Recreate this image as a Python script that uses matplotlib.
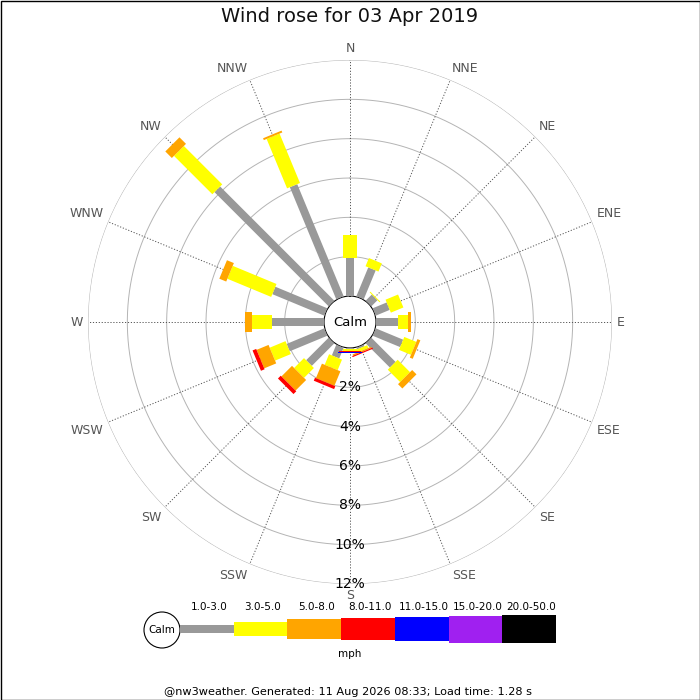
import numpy as np
import matplotlib
matplotlib.use("Agg")
import matplotlib.pyplot as plt
from matplotlib.patches import Rectangle, Circle

# ---------------- data ----------------
directions = ["N", "NNE", "NE", "ENE", "E", "ESE", "SE", "SSE",
              "S", "SSW", "SW", "WSW", "W", "WNW", "NW", "NNW"]
speed_bins = ["1.0-3.0", "3.0-5.0", "5.0-8.0", "8.0-11.0",
              "11.0-15.0", "15.0-20.0", "20.0-50.0"]
bin_colors = ["#999999", "#ffff00", "#ffa500", "#ff0000",
              "#0000ff", "#a020f0", "#000000"]
bin_widths_px = [8, 14, 20, 22, 24, 27, 28]

# percent of time per direction for each speed bin
pct_1_3 = [1.92, 1.60, 0.45, 0.78, 1.13, 1.52, 1.75, 0.10,
           0.05, 0.60, 1.63, 2.08, 2.66, 2.87, 8.22, 6.18]
pct_3_5 = [1.18, 0.45, 0.05, 0.69, 0.51, 0.66, 0.89, 0.15,
           0.10, 0.58, 0.71, 0.87, 1.02, 2.41, 2.76, 2.72]
pct_5_8 = [0.00, 0.00, 0.00, 0.00, 0.12, 0.16, 0.31, 0.07,
           0.02, 0.80, 0.76, 0.66, 0.34, 0.38, 0.47, 0.10]
pct_8_11 = [0.00, 0.00, 0.00, 0.00, 0.00, 0.00, 0.00, 0.06,
            0.03, 0.16, 0.20, 0.20, 0.00, 0.00, 0.00, 0.00]
pct_11_15 = [0.00, 0.00, 0.00, 0.00, 0.00, 0.00, 0.00, 0.00,
             0.06, 0.00, 0.00, 0.00, 0.00, 0.00, 0.00, 0.00]
pct_15_20 = [0.0] * 16
pct_20_50 = [0.0] * 16
series = [pct_1_3, pct_3_5, pct_5_8, pct_8_11, pct_11_15, pct_15_20, pct_20_50]

ring_values = [2, 4, 6, 8, 10, 12]
ring_labels = ["2%", "4%", "6%", "8%", "10%", "12%"]

title = "Wind rose for 03 Apr 2019"
footer = "@nw3weather. Generated: 11 Aug 2026 08:33; Load time: 1.28 s"

# ---------------- figure ----------------
W = H = 700
DPI = 100
fig = plt.figure(figsize=(W / DPI, H / DPI), dpi=DPI)
fig.patch.set_facecolor("white")

cx, cy, R = 350, 322, 262   # pixel centre and outer radius
calm_px = 26
rmax = 12.0
off = calm_px * rmax / (R - calm_px)

ax = fig.add_axes([(cx - R) / W, (H - cy - R) / H, 2 * R / W, 2 * R / H],
                  projection="polar")
ax.set_theta_zero_location("N")
ax.set_theta_direction(-1)
ax.set_rlim(0, rmax)
ax.set_rorigin(-off)
ax.set_xticks([])
ax.set_yticks([])
ax.grid(False)
for sp in ax.spines.values():
    sp.set_visible(False)
ax.patch.set_alpha(0)

thetas = np.deg2rad(np.arange(16) * 22.5)
full = np.linspace(0, 2 * np.pi, 400)

# rings
for r in ring_values:
    ax.plot(full, np.full_like(full, r), color="#b4b4b4", lw=0.7, zorder=1)
# spokes
for t in thetas:
    ax.plot([t, t], [0, rmax], color="#555555", lw=0.7,
            linestyle=(0, (1.2, 1.8)), zorder=1)

# bars
px2pt = 72.0 / DPI
for i, t in enumerate(thetas):
    base = 0.0
    for k, s in enumerate(series):
        v = s[i]
        if v > 0:
            ax.plot([t, t], [base, base + v], color=bin_colors[k],
                    lw=bin_widths_px[k] * px2pt, solid_capstyle="butt",
                    zorder=3 + k)
            base += v

# direction labels
lab_r = (267 - calm_px) / (R - calm_px) * rmax
for t, d in zip(thetas, directions):
    s, c = np.sin(t), np.cos(t)
    ha = "center" if abs(s) < 1e-6 else ("left" if s > 0 else "right")
    va = "center" if abs(c) < 1e-6 else ("bottom" if c > 0 else "top")
    ax.text(t, lab_r, d, ha=ha, va=va, fontsize=9, color="#555555",
            clip_on=False, zorder=10)

# percentage labels along south
for r, l in zip(ring_values, ring_labels):
    ax.text(np.pi, r, l, ha="center", va="center", fontsize=10,
            color="black", zorder=12)

ax.text(0.5, 0.5, "Calm", transform=ax.transAxes, ha="center", va="center",
        fontsize=9.5, color="black", zorder=12)

# ---------------- overlay (title, legend, footer) ----------------
ov = fig.add_axes([0, 0, 1, 1], zorder=-1)
ov.set_xlim(0, W)
ov.set_ylim(H, 0)
ov.axis("off")

fig.text(0.5, 1 - 17 / H, title, ha="center", va="center", fontsize=14,
         color="#111111")

# legend
ov.add_patch(Circle((162, 630), 18, facecolor="white", edgecolor="black",
                    lw=0.8))
ov.text(162, 630, "Calm", ha="center", va="center", fontsize=7.5)
x0, seg = 180, 53.7
for k, (lab, col, wpx) in enumerate(zip(speed_bins, bin_colors, bin_widths_px)):
    xs = x0 + k * seg
    ov.add_patch(Rectangle((xs, 629 - wpx / 2), seg, wpx, facecolor=col,
                           edgecolor="none"))
    ov.text(xs + seg / 2 + 2, 607, lab, ha="center", va="center",
            fontsize=7.5, color="black")
ov.text(350, 654, "mph", ha="center", va="center", fontsize=7.5)
ov.text(348, 692, footer, ha="center", va="center", fontsize=8.1)

# frame
ov.add_patch(Rectangle((0.5, 0.5), W - 1, H - 1, facecolor="none",
                       edgecolor="black", lw=1.0))

fig.savefig("out.png", dpi=DPI)
